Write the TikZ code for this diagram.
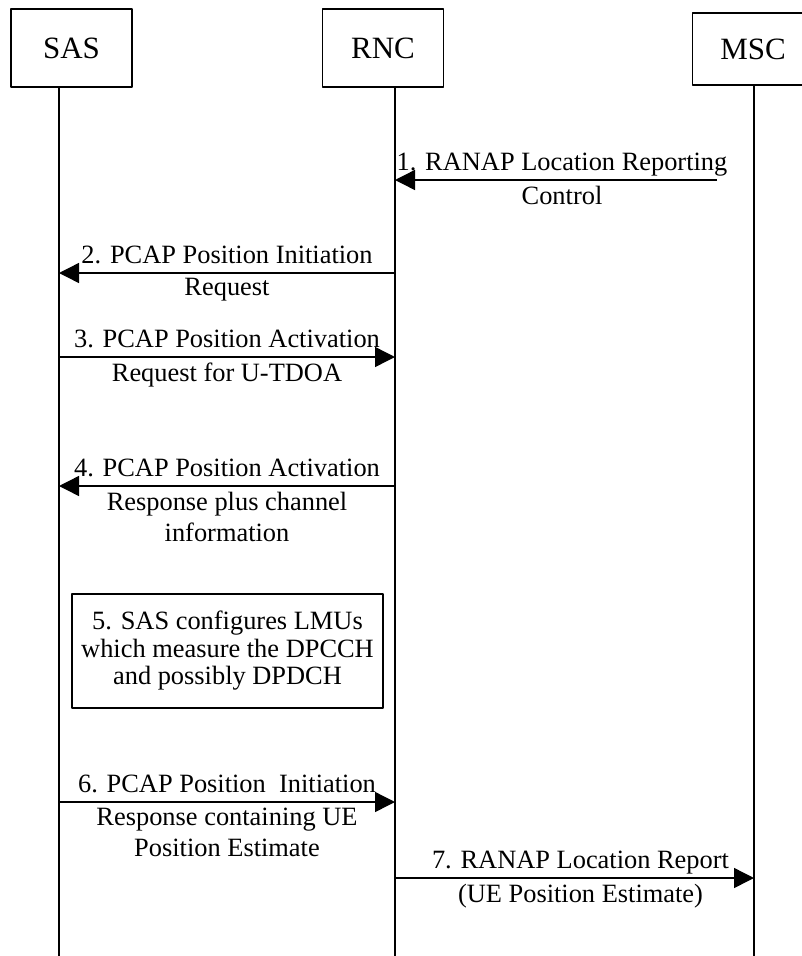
\documentclass[tikz,border=0pt]{standalone}
\usepackage{fontspec}
\setmainfont{Liberation Serif}
\usetikzlibrary{arrows.meta}
\newcommand\msgfont{\fontsize{26.4}{31}\selectfont}
\newcommand\headfont{\fontsize{31}{36}\selectfont}
\newcommand\boxfont{\fontsize{26.4}{27.5}\selectfont}

\begin{document}
\begin{tikzpicture}[x=1pt,y=-1pt,line width=1.4pt,font=\msgfont,line join=round,
    entity/.style={draw,minimum width=121pt,minimum height=78pt,inner sep=0pt,font=\headfont},
    msg/.style={-{Triangle[length=20pt,width=20pt]}},
    toptxt/.style={above=9pt,inner sep=0pt,text depth=0pt},
    bottxt/.style={below=5pt,inner sep=0pt,align=center}]
  \useasboundingbox (0,0) rectangle (802,956);
  % entities and lifelines
  \node[entity] (sas) at (71.5,48) {SAS};
  \node[entity] (rnc) at (383,48) {RNC};
  \node[entity,minimum height=72pt] (msc) at (753,49) {MSC};
  \coordinate (sasend) at (59,956);
  \coordinate (rncend) at (395,956);
  \coordinate (mscend) at (754,956);
  \draw (sas.south -| sasend) -- (sasend);
  \draw (rnc.south -| rncend) -- (rncend);
  \draw (msc.south -| mscend) -- (mscend);
  % messages
  \coordinate (m1) at (717,180);
  \draw[msg] (m1) -- (rncend |- m1)
    node[midway,toptxt,xshift=6pt] (t1) {1. RANAP Location Reporting}
    node[midway,bottxt,xshift=6pt] (b1) {Control};
  \draw[msg] (rncend |- 0,273) -- (sasend |- 0,273)
    node[midway,toptxt] (t2) {2. PCAP Position Initiation}
    node[midway,bottxt] (b2) {Request};
  \draw[msg] (sasend |- 0,357) -- (rncend |- 0,357)
    node[midway,toptxt] (t3) {3. PCAP Position Activation}
    node[midway,bottxt] (b3) {Request for U-TDOA};
  \draw[msg] (rncend |- 0,486) -- (sasend |- 0,486)
    node[midway,toptxt] (t4) {4. PCAP Position Activation}
    node[midway,bottxt] (b4) {Response plus channel\\information};
  \node[draw,minimum width=311pt,minimum height=114pt,align=center,font=\boxfont] (conf) at (227.5,651)
    {5. SAS configures LMUs\\which measure the DPCCH\\and possibly DPDCH};
  \draw[msg] (sasend |- 0,802) -- (rncend |- 0,802)
    node[midway,toptxt] (t6) {6. PCAP Position~ Initiation}
    node[midway,bottxt] (b6) {Response containing UE\\Position Estimate};
  \draw[msg] (rncend |- 0,878) -- (mscend |- 0,878)
    node[midway,toptxt,xshift=6pt] (t7) {7. RANAP Location Report}
    node[midway,bottxt,xshift=6pt] (b7) {(UE Position Estimate)};
\end{tikzpicture}
\end{document}
